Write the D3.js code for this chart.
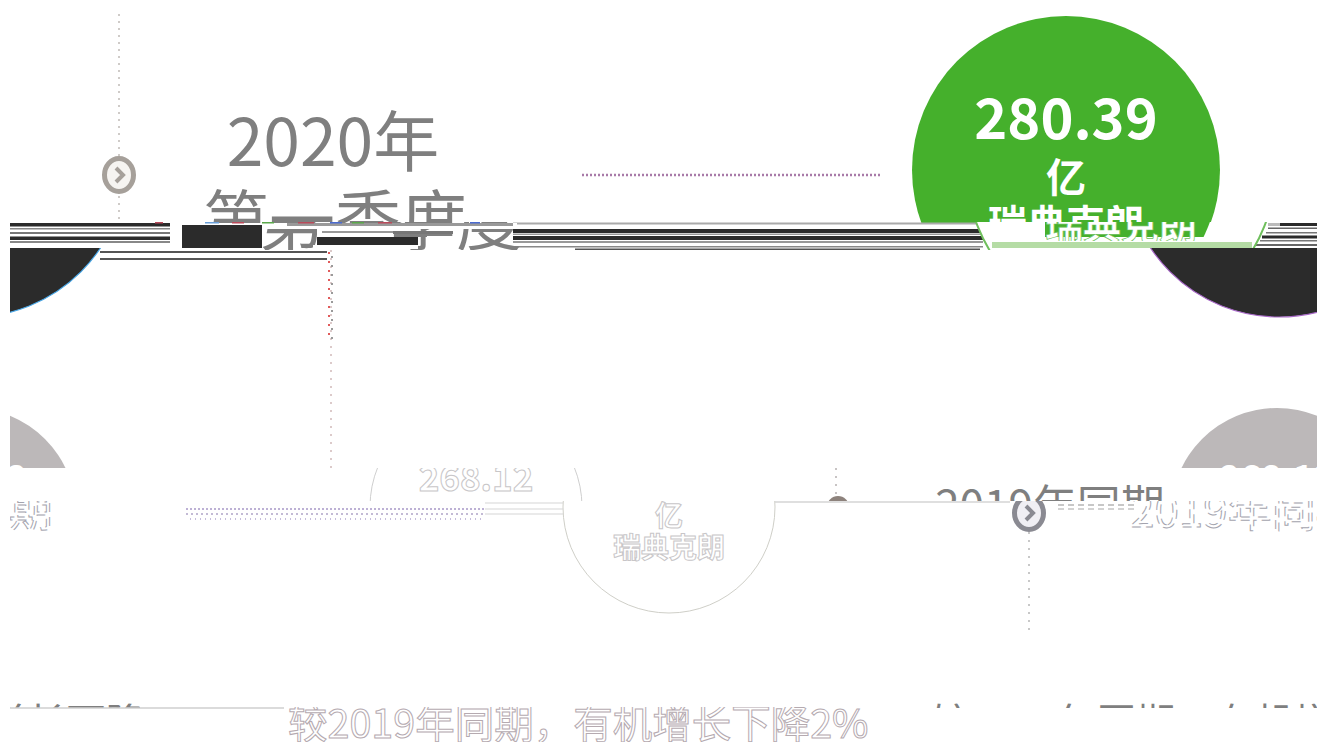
<!DOCTYPE html>
<html>
<head>
<meta charset="utf-8">
<style>
body { margin: 0; background: #fff; }
svg { display: block; }
text { font-family: "Noto Sans CJK SC", "Noto Sans", sans-serif; }
</style>
</head>
<body>
<svg id="chart" width="1317" height="742"></svg>
<script src="https://d3js.org/d3.v7.min.js"></script>
<script>

// chart content
var periods = ["2020年", "2019年同期"];
var quarter = "第一季度";
var totals = [280.39, 268.12];
var unit = "亿";
var currency = "瑞典克朗";
var note = "较2019年同期，有机增长下降2%";

var GREEN = "#45b02c", DARK = "#2b2b2b", GREY = "#7f7f7f", SOFT = "#bcb8b9";

var svg = d3.select("#chart"),
    width = +svg.attr("width"),
    height = +svg.attr("height"),
    defs = svg.append("defs");

// the picture is torn into horizontal bands, each one wraps around at this width
var wrap = 1307;
var r = d3.scaleLinear().domain([totals[1], totals[0]]).range([106, 154]);

function band(id, x0, y0, x1, y1) {
  defs.append("clipPath").attr("id", id).append("rect")
      .attr("x", x0).attr("y", y0).attr("width", x1 - x0).attr("height", y1 - y0);
  return svg.append("g").attr("clip-path", "url(#" + id + ")");
}

function label(g, str, x, y, size, opt) {
  opt = opt || {};
  return g.append("text")
      .attr("x", x).attr("y", y)
      .attr("text-anchor", opt.anchor || "middle")
      .attr("font-size", size)
      .attr("font-weight", opt.weight || 400)
      .attr("fill", opt.fill || GREY)
      .attr("stroke", opt.stroke || "none")
      .attr("stroke-width", opt.sw || 0)
      .attr("stroke-dasharray", opt.dash || null)
      .text(str);
}

function dotted(g, x1, y1, x2, y2, color, dash, sw) {
  g.append("line")
      .attr("x1", x1).attr("y1", y1).attr("x2", x2).attr("y2", y2)
      .attr("stroke", color)
      .attr("stroke-width", sw || 2)
      .attr("stroke-dasharray", dash || "2,6");
}

function marker(g, cx, cy, color, inner) {
  g.append("ellipse")
      .attr("cx", cx).attr("cy", cy).attr("rx", 14.5).attr("ry", 16.5)
      .attr("fill", inner).attr("stroke", color).attr("stroke-width", 5);
  g.append("path")
      .attr("d", d3.line()([[cx - 3, cy - 7], [cx + 4, cy], [cx - 3, cy + 7]]))
      .attr("fill", "none").attr("stroke", color).attr("stroke-width", 4);
}

function bars(g, cls, rows) {
  g.selectAll("rect." + cls).data(rows).enter().append("rect")
      .attr("class", cls)
      .attr("x", function(d) { return d[0]; })
      .attr("y", function(d) { return d[1]; })
      .attr("width", function(d) { return d[2]; })
      .attr("height", function(d) { return d[3]; })
      .attr("fill", function(d) { return d[4]; });
}

// top band
var upper = band("b1", 0, 0, width, 223);
dotted(upper, 119, 14, 119, 223, "#cfcbc8", "2,5");
marker(upper, 119, 175, "#a6a09a", "#f6f4f1");
label(upper, periods[0], 333, 166, 66);
label(upper, quarter, 335, 245, 66);
dotted(upper, 582, 175, 880, 175, "#a87aa8", "2,2", 2.5);
upper.append("circle").attr("cx", 1066).attr("cy", 170).attr("r", r(totals[0])).attr("fill", GREEN);
label(upper, totals[0].toFixed(2), 1066, 139, 56, {weight: 700, fill: "#fff"});
label(upper, unit, 1066, 192, 40, {weight: 700, fill: "#fff"});
label(upper, currency, 1066, 238, 39, {weight: 700, fill: "#fff"});

// torn strip: same row shifted right by 55 over dark stripes
var strip = band("b2", 10, 222, width, 250);
bars(strip, "stripe", [
  [10, 223, 160, 3.5, DARK], [10, 228, 160, 1.5, "#888"], [10, 232, 160, 2, "#777"],
  [10, 236.5, 160, 3.5, DARK], [10, 241, 160, 2, "#888"],
  [182, 225, 80, 23, DARK],
  [513, 222.5, 470, 2, "#aaa"], [513, 229, 470, 4, DARK], [513, 233.5, 470, 1.5, "#999"],
  [513, 236, 470, 4, DARK], [513, 241, 470, 2, "#999"], [513, 246, 470, 1.5, "#888"],
  [1268, 223, 12, 3, "#bbb"], [1280, 223, 37, 3, DARK], [1268, 227.5, 49, 1.5, "#666"],
  [1266, 232, 51, 1.5, "#777"], [1262, 235.5, 55, 3, DARK], [1260, 240, 57, 1.5, "#777"],
  [1256, 244, 61, 2, "#666"], [575, 248.5, 405, 1.5, "#555"]
]);
label(strip, quarter, 390, 245, 66);
bars(strip, "tear", [
  [262, 223, 255, 6, "#fff"], [287, 223, 226, 3, "#999"],
  [317, 229, 76, 8, "#fff"], [317, 237, 101, 8, DARK], [393, 231, 60, 3, "#777"],
  [427, 236, 30, 11, "#fff"], [313, 245, 105, 4, "#fff"], [322, 231, 71, 2, "#999"]
]);
bars(strip, "speck", [
  [155, 222, 8, 1.5, "#b94a5a"], [205, 222, 14, 1.5, "#6a9fd8"], [232, 222, 12, 1.5, "#b94a5a"],
  [262, 222, 12, 1.5, "#5aa84a"], [298, 222, 16, 1.5, "#b94a5a"], [330, 222, 12, 1.5, "#4a6ad0"],
  [352, 222, 12, 1.5, "#5aa84a"], [378, 222, 14, 1.5, "#b94a5a"], [470, 222, 10, 1.5, "#4a6ad0"]
]);

strip.append("circle").attr("cx", 1121).attr("cy", 170).attr("r", r(totals[0]))
    .attr("fill", "#fff").attr("stroke", "#6fbf5c").attr("stroke-width", 2);
var greenPart = band("b2g", 1045, 222, 1260, 237);
greenPart.append("circle").attr("cx", 1066).attr("cy", 170).attr("r", r(totals[0]) - 1).attr("fill", GREEN);
var paleBand = band("b2p", 992, 242, 1252, 248);
paleBand.append("rect").attr("x", 992).attr("y", 242).attr("width", 260).attr("height", 6).attr("fill", "#b5dca5");
var stripText = band("b2t", 1040, 222, 1200, 241);
label(stripText, currency, 1121, 239, 38, {weight: 700, fill: "#fff", stroke: "#6fbf5c", sw: 0.7});

// dark echo of the big circle, wrapped to the left edge
var echo = band("b3", 10, 248, width, 468);
[[1279, "#a868c8"], [1279 - wrap, "#4aa8e8"]].forEach(function(c) {
  echo.append("circle").attr("cx", c[0]).attr("cy", 163).attr("r", r(totals[0]))
      .attr("fill", DARK).attr("stroke", c[1]).attr("stroke-width", 1.2);
});
bars(echo, "cut", [[100, 251, 227, 2, "#555"], [100, 258, 227, 2, "#555"]]);
dotted(echo, 331, 250, 331, 468, "#dccaca");
dotted(echo, 329, 252, 329, 340, "#e05a5a", "2,7");
dotted(echo, 332, 256, 332, 340, "#9a9a9a", "2,7");

// soft circles of the comparison value, cut off at the tear
var soft = band("b4", 10, 400, width, 468);
[1277, 1277 - wrap].forEach(function(cx) {
  soft.append("circle").attr("cx", cx).attr("cy", 514).attr("r", r(totals[1])).attr("fill", SOFT);
  label(soft, totals[1].toFixed(2), cx, 490, 35, {weight: 700, fill: "#fff"});
});

// washed out lower band
var ghost = {fill: "#fff", stroke: "#c8c6c8", sw: 1, weight: 700};
var lowTop = band("b5", 10, 468, width, 501);
lowTop.append("circle").attr("cx", 476).attr("cy", 507).attr("r", r(totals[1]))
    .attr("fill", "#fff").attr("stroke", "#cfcfcf");
label(lowTop, totals[1].toFixed(2), 476, 491, 35, ghost);
dotted(lowTop, 836, 468, 836, 495, "#c8c4c4");
lowTop.append("circle").attr("cx", 838).attr("cy", 507).attr("r", 11).attr("fill", "#8d827c");
label(lowTop, periods[1], 1050, 522, 44);

var low = band("b6", 10, 501, width, 708);
low.append("circle").attr("cx", 669).attr("cy", 507).attr("r", r(totals[1]))
    .attr("fill", "#fff").attr("stroke", "#cfcfc8");
label(low, unit, 669, 526, 28, ghost);
label(low, currency, 669, 558, 28, ghost);
low.append("line").attr("x1", 775).attr("x2", 1010).attr("y1", 502).attr("y2", 502)
    .attr("stroke", "#d5d5d5").attr("stroke-width", 1.5);
dotted(low, 186, 509, 485, 509, "#a898c8", "2,2", 1.5);
dotted(low, 186, 514, 485, 514, "#b0a4c8", "2,3", 1.5);
dotted(low, 190, 519, 485, 519, "#b4a8d0", "1,4", 1.5);
[503, 509, 514].forEach(function(y) {
  low.append("line").attr("x1", 485).attr("x2", 563).attr("y1", y).attr("y2", y)
      .attr("stroke", "#d5d5d5");
});
dotted(low, 1058, 505, 1135, 505, "#b5b5b5", "6,4", 1.5);
dotted(low, 1058, 509, 1135, 509, "#c5c5c5", "6,4", 1.5);
var broken = {fill: "#fff", stroke: "#a4a4ae", sw: 1, dash: "9,5", anchor: "start"};
label(low, periods[1], 1130, 527, 44, broken);
label(low, periods[1], 1130 - wrap, 527, 44, broken);
marker(low, 1029, 513, "#8a8a92", "#f0eff4");
dotted(low, 1029, 532, 1029, 635, "#c8c8c8");

// only the tops of the next text row show above the tear
var rowRight = band("b7", 925, 703.5, width, 708);
label(rowRight, note, 930, 737, 39.5, {anchor: "start"});
var rowLeft = band("b9", 10, 703.5, 140, 708);
label(rowLeft, note, 930 - wrap, 737, 39.5, {anchor: "start"});

// bottom row
var bottom = band("b8", 0, 707, width, height);
bottom.append("line").attr("x1", 10).attr("x2", 284).attr("y1", 708).attr("y2", 708)
    .attr("stroke", "#cfcfcf").attr("stroke-width", 1.5);
label(bottom, note, 288, 738, 39.5, {anchor: "start", fill: "#fff", stroke: "#b5aab0", sw: 1});

</script>
</body>
</html>
